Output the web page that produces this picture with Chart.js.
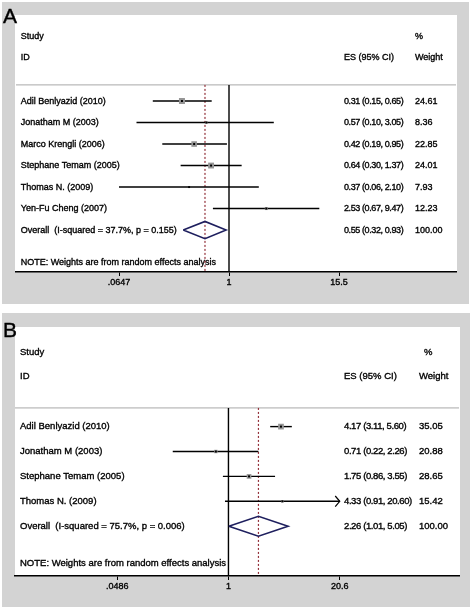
<!DOCTYPE html>
<html><head><meta charset="utf-8">
<script src="https://cdn.jsdelivr.net/npm/chart.js@4.4.1/dist/chart.umd.min.js"></script>
<style>
html,body{margin:0;padding:0;background:#fff;width:472px;height:610px;overflow:hidden;font-family:"Liberation Sans",Arial,sans-serif;}
.panel{position:absolute;background:#d3d3d3;}
.inner{position:absolute;background:#fff;}
.panel canvas{position:absolute;left:0;top:0;}
.letter{position:absolute;font-size:21px;color:#000;line-height:1;font-family:"Liberation Sans",Arial,sans-serif;-webkit-text-stroke:0.4px #000;}
</style></head><body>
<div class="panel" style="left:2px;top:2px;width:467px;height:302px;">
  <div class="inner" style="left:13px;top:13px;width:442px;height:257px;"></div>
  <canvas id="cA" width="467" height="302"></canvas>
</div>
<div class="panel" style="left:2px;top:313px;width:468px;height:294px;">
  <div class="inner" style="left:13px;top:14px;width:445px;height:249px;"></div>
  <canvas id="cB" width="468" height="294"></canvas>
</div>
<div class="letter" style="left:3px;top:5px;">A</div>
<div class="letter" style="left:3px;top:319px;">B</div>
<script>
// ---------- Panel A data ----------
const studiesA = ['Adil Benlyazid (2010)', 'Jonatham M (2003)', 'Marco Krengli (2006)', 'Stephane Temam (2005)', 'Thomas N. (2009)', 'Yen-Fu Cheng (2007)'];
const esA = [0.31, 0.57, 0.42, 0.64, 0.37, 2.53];
const loA = [0.15, 0.10, 0.19, 0.30, 0.06, 0.67];
const hiA = [0.65, 3.05, 0.95, 1.37, 2.10, 9.47];
const weightA = [24.61, 8.36, 22.85, 24.01, 7.93, 12.23];
const overallA = [0.55, 0.32, 0.93];
const overallLabelA = 'Overall  (I-squared = 37.7%, p = 0.155)';
const tickValsA = [0.0647, 1, 15.5];
const tickLabelsA = ['.0647', '1', '15.5'];

// ---------- Panel B data ----------
const studiesB = ['Adil Benlyazid (2010)', 'Jonatham M (2003)', 'Stephane Temam (2005)', 'Thomas N. (2009)'];
const esB = [4.17, 0.71, 1.75, 4.33];
const loB = [3.11, 0.22, 0.86, 0.91];
const hiB = [5.60, 2.26, 3.55, 20.60];
const weightB = [35.05, 20.88, 28.65, 15.42];
const overallB = [2.26, 1.01, 5.05];
const overallLabelB = 'Overall  (I-squared = 75.7%, p = 0.006)';
const tickValsB = [0.0486, 1, 20.6];
const tickLabelsB = ['.0486', '1', '20.6'];

const noteText = 'NOTE: Weights are from random effects analysis';
const FONT = '"Liberation Sans", Arial, Helvetica, sans-serif';

function fmtCI(e, l, h) { return e.toFixed(2) + ' (' + l.toFixed(2) + ', ' + h.toFixed(2) + ')'; }

const forestPlugin = {
  id: 'forest',
  beforeDatasetsDraw(chart, args, o) {
    const ctx = chart.ctx, ys = chart.scales.y;
    const n = o.studies.length;
    ctx.save();
    ctx.fillStyle = '#000';
    ctx.strokeStyle = '#000';
    ctx.lineWidth = 0.35;
    ctx.textBaseline = 'middle';
    ctx.textAlign = 'left';
    ctx.font = o.fontSize + 'px ' + FONT;
    const put = (t, x, yv, ls) => {
      const py = ys.getPixelForValue(yv);
      ctx.letterSpacing = ls || '0px';
      ctx.fillText(t, x, py);
      ctx.strokeText(t, x, py);
    };
    put('Study', o.xLabel, -3);
    put('ID', o.xLabel, -2);
    put('%', o.xPct, -3);
    put('ES (95% CI)', o.xES, -2);
    put('Weight', o.xW, -2);
    o.studies.forEach((s, i) => {
      put(s, o.xLabel, i);
      put(fmtCI(o.es[i], o.lo[i], o.hi[i]), o.xES, i, o.esSpacing);
      put(o.w[i].toFixed(2), o.xW, i);
    });
    put(o.overallLabel, o.xLabel, n);
    put(fmtCI(o.overall[0], o.overall[1], o.overall[2]), o.xES, n, o.esSpacing);
    put((100).toFixed(2), o.xW, n);
    put(noteText, o.xLabel, n + 1.5);
    ctx.restore();
  },
  afterDatasetsDraw(chart, args, o) {
    const ctx = chart.ctx, xs = chart.scales.x, ys = chart.scales.y;
    const tmax = o.ticks[o.ticks.length - 1];
    ctx.save();
    ctx.strokeStyle = '#000';
    ctx.lineWidth = 1.2;
    o.hi.forEach((h, i) => {
      if (h >= tmax) {
        const px = xs.getPixelForValue(tmax), py = ys.getPixelForValue(i);
        ctx.beginPath();
        ctx.moveTo(px - 4.5, py - 5.3);
        ctx.lineTo(px, py);
        ctx.lineTo(px - 4.5, py + 5.3);
        ctx.stroke();
      }
    });
    ctx.restore();
  }
};

function makeForest(id, cfg) {
  const n = cfg.studies.length;
  const tmin = cfg.ticks[0], tmax = cfg.ticks[cfg.ticks.length - 1];
  const sepY = -0.75;
  const ds = [];
  ds.push({ type: 'line', data: [{ x: cfg.xMin, y: sepY }, { x: cfg.xMax, y: sepY }], borderColor: '#a8a8a8', borderWidth: 1, pointRadius: 0, order: 20 });
  ds.push({ type: 'line', data: [{ x: 1, y: sepY }, { x: 1, y: cfg.yMax }], borderColor: '#000', borderWidth: 1.4, pointRadius: 0, order: 19 });
  ds.push({ type: 'line', data: [{ x: cfg.overall[0], y: sepY }, { x: cfg.overall[0], y: cfg.yMax }], borderColor: '#93303a', borderWidth: 1.2, borderDash: [2, 2], pointRadius: 0, order: 18 });
  cfg.studies.forEach((s, i) => {
    ds.push({ type: 'line', data: [{ x: Math.max(cfg.lo[i], tmin), y: i }, { x: Math.min(cfg.hi[i], tmax), y: i }], borderColor: '#000', borderWidth: 1.4, pointRadius: 0, order: 10 });
  });
  ds.push({ type: 'scatter', data: cfg.es.map((e, i) => ({ x: e, y: i })), pointStyle: 'rect', pointRadius: cfg.w.map(w => w * cfg.boxK / Math.SQRT2), backgroundColor: '#959595', borderWidth: 0, order: 5 });
  ds.push({ type: 'scatter', data: cfg.es.map((e, i) => ({ x: e, y: i })), pointStyle: 'rect', pointRadius: 1.4, backgroundColor: '#000', borderWidth: 0, order: 4 });
  const o = cfg.overall;
  ds.push({ type: 'line', data: [{ x: o[1], y: n }, { x: o[0], y: n - 0.4 }, { x: o[2], y: n }, { x: o[0], y: n + 0.4 }, { x: o[1], y: n }], borderColor: '#1e1f5e', borderWidth: 1.6, pointRadius: 0, fill: false, tension: 0, order: 3 });

  return new Chart(document.getElementById(id), {
    type: 'scatter',
    data: { datasets: ds },
    options: {
      responsive: false, animation: false, devicePixelRatio: 1,
      layout: { padding: cfg.padding },
      plugins: {
        legend: { display: false }, tooltip: { enabled: false },
        forest: {
          studies: cfg.studies, es: cfg.es, lo: cfg.lo, hi: cfg.hi, w: cfg.w, overall: cfg.overall,
          overallLabel: cfg.overallLabel, ticks: cfg.ticks, esSpacing: cfg.esSpacing,
          fontSize: cfg.fontSize, xLabel: cfg.xLabel, xES: cfg.xES, xW: cfg.xW, xPct: cfg.xPct
        }
      },
      scales: {
        x: {
          type: 'logarithmic', min: cfg.xMin, max: cfg.xMax, position: 'bottom',
          afterBuildTicks: s => { s.ticks = cfg.ticks.map(v => ({ value: v })); },
          afterFit: s => { s.height = cfg.axisH; },
          ticks: { autoSkip: false, maxRotation: 0, color: '#000', padding: 1, font: { size: 9, family: FONT },
                   textStrokeColor: '#000', textStrokeWidth: 0.35, callback: (v, i) => cfg.tickLabels[i] },
          grid: { display: true, drawOnChartArea: false, drawTicks: true, tickLength: 4, tickColor: '#000', lineWidth: 1 },
          border: { display: true, color: '#000', width: 1.5 }
        },
        y: { type: 'linear', min: -4, max: cfg.yMax, reverse: true, display: false }
      }
    },
    plugins: [forestPlugin]
  });
}

makeForest('cA', {
  studies: studiesA, es: esA, lo: loA, hi: hiA, w: weightA, overall: overallA, overallLabel: overallLabelA,
  ticks: tickValsA, tickLabels: tickLabelsA,
  xMin: 0.00498, xMax: 284.5, yMax: 7.95,
  padding: { left: 14, right: 13, top: 13, bottom: 0 }, axisH: 32,
  fontSize: 9, xLabel: 18.7, xES: 342, xW: 413, xPct: 413, boxK: 0.244, esSpacing: '-0.4px'
});
makeForest('cB', {
  studies: studiesB, es: esB, lo: loB, hi: hiB, w: weightB, overall: overallB, overallLabel: overallLabelB,
  ticks: tickValsB, tickLabels: tickLabelsB,
  xMin: 0.00302, xMax: 527, yMax: 6.0,
  padding: { left: 13, right: 11, top: 14, bottom: 0 }, axisH: 31,
  fontSize: 9.5, xLabel: 18, xES: 342, xW: 417, xPct: 422, boxK: 0.163, esSpacing: '-0.4px'
});
</script>
</body></html>
